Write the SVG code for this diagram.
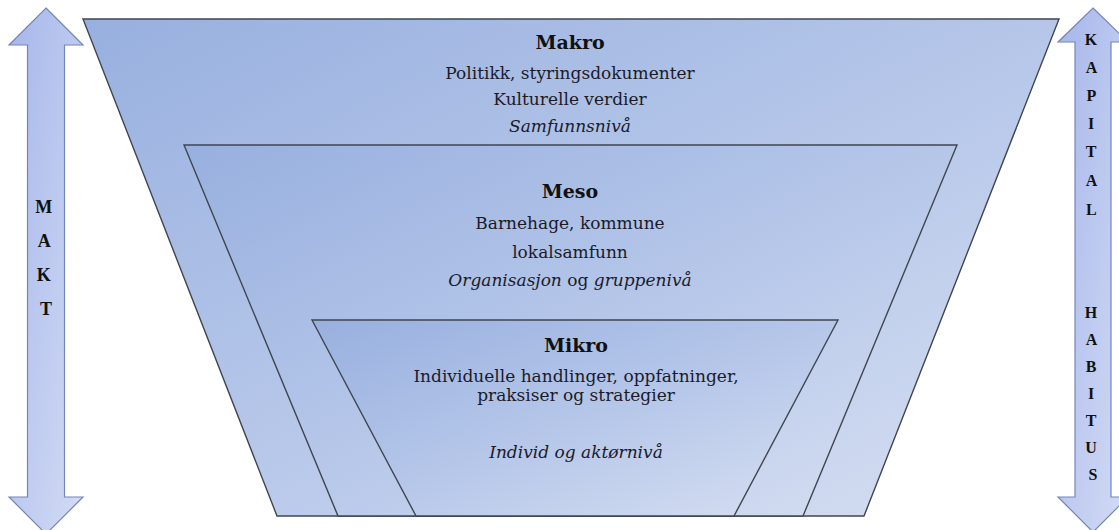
<svg xmlns="http://www.w3.org/2000/svg" width="1119" height="530" viewBox="0 0 1119 530">
  <defs>
    <linearGradient id="gTrap" x1="0" y1="0" x2="1" y2="1">
      <stop offset="0" stop-color="#98b0df"/>
      <stop offset="0.5" stop-color="#b5c6e9"/>
      <stop offset="1" stop-color="#d7e0f2"/>
    </linearGradient>
    <linearGradient id="gArrow" x1="0" y1="0" x2="1" y2="1">
      <stop offset="0" stop-color="#a6b6ea"/>
      <stop offset="1" stop-color="#d3dcf5"/>
    </linearGradient>
    <style>
      .trap { fill: url(#gTrap); stroke: #3f4650; stroke-width: 1.4; stroke-linejoin: miter; }
      .arrow { fill: url(#gArrow); stroke: #7585b8; stroke-width: 1.2; }
      .t { font-family: "DejaVu Serif", Georgia, serif; font-size: 17px; fill: #1b1b28; text-anchor: middle; }
      .h { font-family: "DejaVu Serif", Georgia, serif; font-size: 19px; font-weight: bold; fill: #111; text-anchor: middle; }
      .i { font-style: italic; }
      .v { font-family: "Liberation Serif", "Times New Roman", serif; font-weight: bold; fill: #111; text-anchor: middle; }
      .vl { font-size: 18px; }
      .vr { font-size: 16px; }
    </style>
  </defs>

  <g id="arrow-makt">
    <path class="arrow" d="M46,8 L83,45 L64.5,45 L64.5,497 L83,497 L46,534 L9,497 L27.5,497 L27.5,45 L9,45 Z"/>
    <text class="v vl">
      <tspan x="46" y="213">M</tspan>
      <tspan x="46" y="247">A</tspan>
      <tspan x="46" y="281">K</tspan>
      <tspan x="46" y="315">T</tspan>
    </text>
  </g>

  <g id="arrow-kapital-habitus">
    <path class="arrow" d="M1093,8 L1128,42 L1111,42 L1111,497 L1128,497 L1093,532 L1058,497 L1075,497 L1075,42 L1058,42 Z"/>
    <text class="v vr">
      <tspan x="1093" y="45">K</tspan>
      <tspan x="1093" y="73">A</tspan>
      <tspan x="1093" y="101">P</tspan>
      <tspan x="1093" y="129">I</tspan>
      <tspan x="1093" y="157">T</tspan>
      <tspan x="1093" y="186">A</tspan>
      <tspan x="1093" y="215">L</tspan>
      <tspan x="1093" y="318">H</tspan>
      <tspan x="1093" y="345">A</tspan>
      <tspan x="1093" y="372">B</tspan>
      <tspan x="1093" y="399">I</tspan>
      <tspan x="1093" y="426">T</tspan>
      <tspan x="1093" y="453">U</tspan>
      <tspan x="1093" y="480">S</tspan>
    </text>
  </g>

  <g id="node-makro">
    <polygon class="trap" points="83,19 1059,19 864,516 277,516"/>
    <text class="h" x="570" y="49">Makro</text>
    <text class="t" x="570" y="79">Politikk, styringsdokumenter</text>
    <text class="t" x="570" y="105">Kulturelle verdier</text>
    <text class="t i" x="570" y="132">Samfunnsnivå</text>
  </g>

  <g id="node-meso">
    <polygon class="trap" points="184,145 957,145 803,516 338,516"/>
    <text class="h" x="570" y="198">Meso</text>
    <text class="t" x="570" y="229">Barnehage, kommune</text>
    <text class="t" x="570" y="258">lokalsamfunn</text>
    <text class="t" x="570" y="286"><tspan class="i">Organisasjon</tspan> og <tspan class="i">gruppenivå</tspan></text>
  </g>

  <g id="node-mikro">
    <polygon class="trap" points="312,320 838,320 734,516 416,516"/>
    <text class="h" x="576" y="352">Mikro</text>
    <text class="t" x="576" y="382">Individuelle handlinger, oppfatninger,</text>
    <text class="t" x="576" y="401">praksiser og strategier</text>
    <text class="t i" x="576" y="458">Individ og aktørnivå</text>
  </g>
</svg>
